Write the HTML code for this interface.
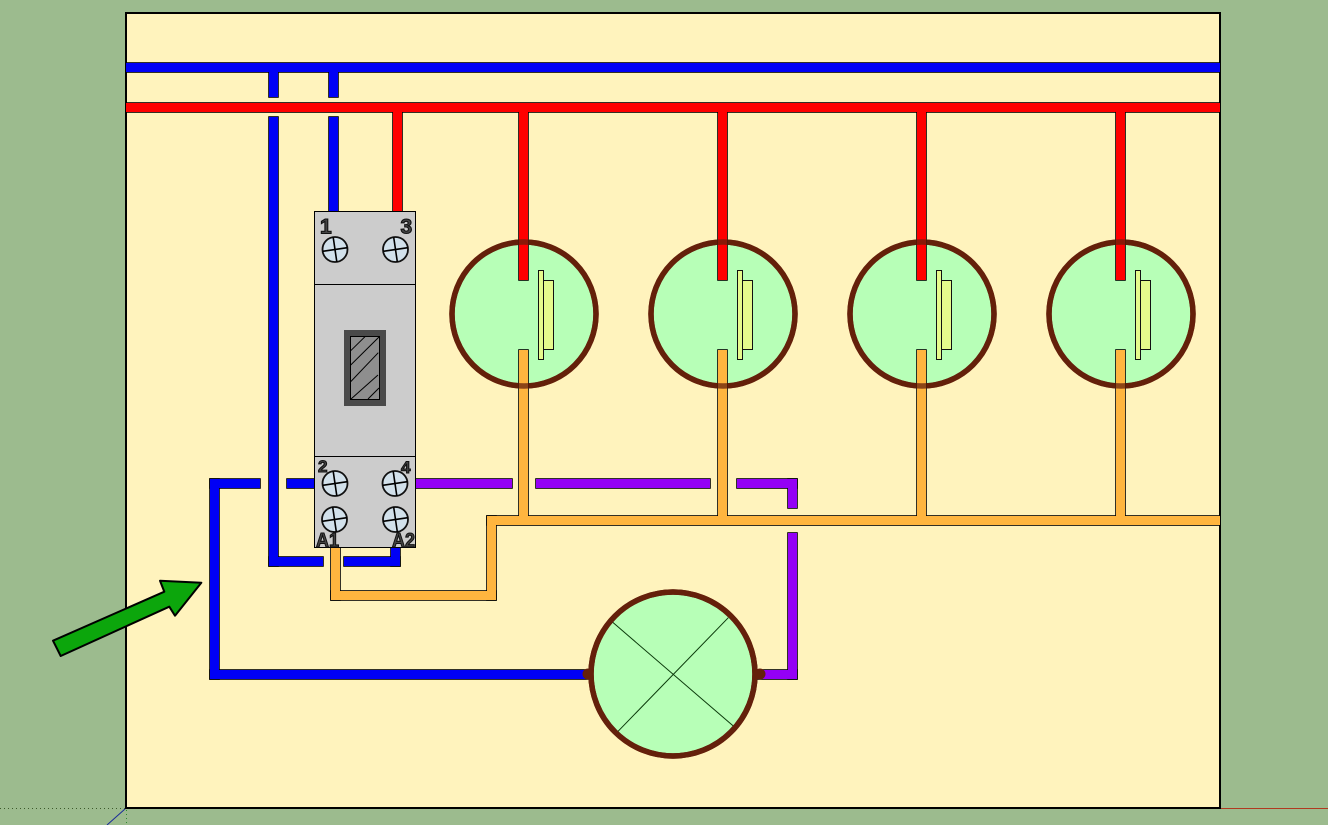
<!DOCTYPE html>
<html><head><meta charset="utf-8"><title>Diagram</title>
<style>html,body{margin:0;padding:0;background:#9CBB8E}svg{display:block}text{font-family:"Liberation Sans",sans-serif;font-weight:bold;fill:#444;stroke:#111;stroke-width:1.1}</style>
</head><body>
<svg xmlns="http://www.w3.org/2000/svg" width="1328" height="825" viewBox="0 0 1328 825">
<defs>
<g id="blue"><rect x="126" y="63" width="1094" height="9"/><rect x="269" y="72" width="9" height="25"/><rect x="329" y="72" width="9" height="25"/><rect x="269" y="117" width="9" height="449"/><rect x="269" y="557" width="54" height="9"/><rect x="329" y="117" width="9" height="95"/><rect x="344" y="557" width="56" height="9"/><rect x="391" y="545" width="9" height="21"/><rect x="210" y="479" width="50" height="9"/><rect x="210" y="479" width="9" height="200"/><rect x="210" y="670" width="380" height="9"/><rect x="287" y="479" width="30" height="9"/></g>
<g id="red"><rect x="126" y="103" width="1094" height="9"/><rect x="393" y="110" width="9" height="102"/><rect x="519" y="110" width="9" height="170"/><rect x="718" y="110" width="9" height="170"/><rect x="917" y="110" width="9" height="170"/><rect x="1116" y="110" width="9" height="170"/></g>
<g id="orange"><rect x="519" y="350" width="9" height="170"/><rect x="718" y="350" width="9" height="170"/><rect x="917" y="350" width="9" height="170"/><rect x="1116" y="350" width="9" height="170"/><rect x="487" y="516" width="733" height="9"/><rect x="487" y="516" width="9" height="84"/><rect x="331" y="591" width="165" height="9"/><rect x="331" y="545" width="9" height="55"/></g>
<g id="purple"><rect x="413" y="479" width="99" height="9"/><rect x="536" y="479" width="174" height="9"/><rect x="737" y="479" width="60" height="9"/><rect x="788" y="479" width="9" height="29"/><rect x="788" y="533" width="9" height="146"/><rect x="755" y="670" width="42" height="9"/></g>
<g id="lamp"><rect x="538.5" y="270.5" width="5" height="89" fill="#E6FA8C" stroke="#111" stroke-width="1"/><rect x="543.5" y="280.5" width="10" height="69" fill="#E6FA8C" stroke="#111" stroke-width="1"/></g>
<g id="screw"><circle r="12.5" fill="#D2E1EB" stroke="#111" stroke-width="1.8"/><path d="M-12.3 1.8L12.3 -1.8M-1.8 -12.3L1.8 12.3" stroke="#000" stroke-width="1.6"/></g>
<clipPath id="win"><rect x="350.5" y="336.5" width="29" height="63"/></clipPath>
<clipPath id="panel"><rect x="126" y="13" width="1094" height="795"/></clipPath>
</defs>

<rect x="0" y="0" width="1328" height="825" fill="#9CBB8E"/>
<rect x="126" y="13" width="1094" height="795" fill="#FFF3BD" stroke="#000" stroke-width="2"/>

<!-- axes -->
<line x1="0" y1="808.5" x2="125" y2="808.5" stroke="#3d5a2c" stroke-width="1" stroke-dasharray="1 3"/>
<line x1="126.5" y1="810" x2="126.5" y2="825" stroke="#2f8a2f" stroke-width="1" stroke-dasharray="1 3"/>
<line x1="125" y1="809" x2="107" y2="825" stroke="#1a2a99" stroke-width="1"/>
<line x1="1221" y1="808.5" x2="1328" y2="808.5" stroke="#B03A20" stroke-width="1"/>

<!-- lamp fills -->
<g fill="#B7FFB7" stroke="#64200B" stroke-width="5.5">
<circle cx="524" cy="314" r="72"/><circle cx="723" cy="314" r="72"/><circle cx="922" cy="314" r="72"/><circle cx="1121" cy="314" r="72"/>
<circle cx="673" cy="674" r="82"/>
</g>
<use href="#lamp"/><use href="#lamp" x="199"/><use href="#lamp" x="398"/><use href="#lamp" x="597"/>

<!-- big lamp cross -->
<path d="M612.7 622.3L733.3 726M728.3 617.7L617.7 731.7" stroke="#0b3a0b" stroke-width="1" fill="none"/>

<!-- wires -->
<g clip-path="url(#panel)">
<g stroke="#000" stroke-width="1.6"><use href="#orange" fill="#000"/><use href="#purple" fill="#000"/></g>
<use href="#orange" fill="#FFB53F"/><use href="#purple" fill="#9400F5"/>
<g stroke="#000" stroke-width="1.6"><use href="#blue" fill="#000"/></g>
<use href="#blue" fill="#0000F5"/>
<g stroke="#000" stroke-width="1.6"><use href="#red" fill="#000"/></g>
<use href="#red" fill="#FF0000"/>
</g>

<!-- ring overlay on wires -->
<g fill="none" stroke="#64200B" stroke-width="5.5" stroke-opacity=".75">
<circle cx="524" cy="314" r="72"/><circle cx="723" cy="314" r="72"/><circle cx="922" cy="314" r="72"/><circle cx="1121" cy="314" r="72"/>
</g>
<circle cx="673" cy="674" r="82" fill="none" stroke="#64200B" stroke-width="5.5"/>
<circle cx="588" cy="674" r="5.5" fill="#64200B"/><circle cx="760" cy="674" r="5.5" fill="#64200B"/>

<!-- contactor -->
<rect x="314.5" y="211.5" width="101" height="336" fill="#CCCCCC" stroke="#000" stroke-width="1"/>
<path d="M315 284.5H415M315 456.5H415" stroke="#000" stroke-width="1"/>
<rect x="344" y="330" width="42" height="76" fill="#4A4A4A"/>
<rect x="350.5" y="336.5" width="29" height="63" fill="#8E8E8E" stroke="#000" stroke-width="1"/>
<g clip-path="url(#win)" stroke="#000" stroke-width="1"><path d="M350.7 350.7L365 336.7M350.7 365L379 337M350.7 381.7L378.3 352.7M351 399L378 375M368 399L379 388" fill="none"/></g>
<use href="#screw" x="335" y="249.5"/><use href="#screw" x="395.5" y="249.5"/>
<use href="#screw" x="335" y="483.5"/><use href="#screw" x="395" y="483.5"/>
<use href="#screw" x="334.5" y="519.5"/><use href="#screw" x="395.5" y="519.5"/>
<text x="320" y="233.5" font-size="21">1</text>
<text x="400.5" y="233.5" font-size="21">3</text>
<text x="318" y="472" font-size="17">2</text>
<text x="401" y="473" font-size="17">4</text>
<text x="316" y="547" font-size="20" textLength="23" lengthAdjust="spacingAndGlyphs">A1</text>
<text x="392" y="547" font-size="20" textLength="23" lengthAdjust="spacingAndGlyphs">A2</text>

<!-- arrow -->
<polygon points="53,640.7 60.7,656 169.3,606.7 175,615.7 201.3,582.7 160,580.7 164.3,591.7" fill="#0CA60C" stroke="#000" stroke-width="2" stroke-linejoin="round"/>
</svg>
</body></html>
